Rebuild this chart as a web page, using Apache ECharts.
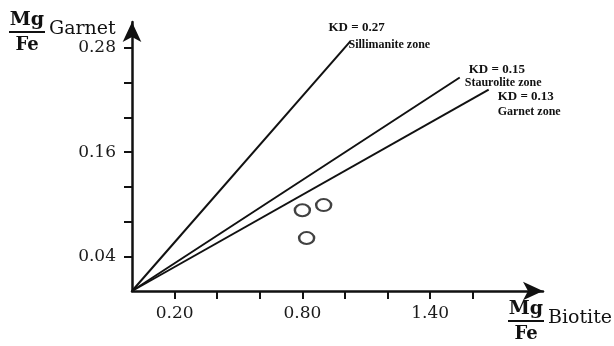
<!DOCTYPE html>
<html>
<head>
<meta charset="utf-8">
<script src="https://cdn.jsdelivr.net/npm/echarts@6/dist/echarts.min.js"></script>
<style>
html,body{margin:0;padding:0;background:#fff;}
#c{width:614px;height:346px;}
</style>
</head>
<body>
<div id="c"></div>
<script>
// Data
const xTickValues = [0.2, 0.4, 0.6, 0.8, 1.0, 1.2, 1.4, 1.6];
const xLabelValues = [0.2, 0.8, 1.4];
const yTickValues = [0.04, 0.08, 0.12, 0.16, 0.20, 0.24, 0.28];
const yLabelValues = [0.04, 0.16, 0.28];
const lineKD027 = [[0, 0], [1.026, 0.288]];
const lineKD015 = [[0, 0], [1.539, 0.246]];
const lineKD013 = [[0, 0], [1.675, 0.232]];
const samples = [[0.80, 0.093], [0.90, 0.099], [0.82, 0.061]];
const lineLabels = [
  ['KD = 0.27', 'Sillimanite zone'],
  ['KD = 0.15', 'Staurolite zone'],
  ['KD = 0.13', 'Garnet zone']
];

const serif = 'DejaVu Serif';
const smallFont = 'Liberation Serif';
const chart = echarts.init(document.getElementById('c'), null, {renderer: 'canvas'});

const lineStyle = {color: '#111', width: 2};
function lineSeries(d) {
  return {type: 'line', data: d, symbol: 'none', lineStyle: lineStyle, silent: true, animation: false};
}

chart.setOption({
  backgroundColor: '#fff',
  animation: false,
  grid: {left: 132, right: 71, top: 22, bottom: 55},
  xAxis: {
    type: 'value', min: 0, max: 1.93,
    splitLine: {show: false},
    axisLine: {show: true, onZero: false, lineStyle: {color: '#111', width: 2.5}, symbol: ['none', 'arrow'], symbolSize: [14, 20]},
    axisTick: {show: true, length: 8, lineStyle: {color: '#111', width: 2}, customValues: xTickValues},
    axisLabel: {customValues: xLabelValues, margin: 14, color: '#1a1a1a', fontFamily: serif, fontSize: 17,
      formatter: v => v.toFixed(2)}
  },
  yAxis: {
    type: 'value', min: 0, max: 0.31,
    splitLine: {show: false},
    axisLine: {show: true, onZero: false, lineStyle: {color: '#111', width: 2.5}, symbol: ['none', 'arrow'], symbolSize: [14, 20]},
    axisTick: {show: true, length: 8, lineStyle: {color: '#111', width: 2}, customValues: yTickValues},
    axisLabel: {customValues: yLabelValues, margin: 16, color: '#1a1a1a', fontFamily: serif, fontSize: 17,
      formatter: v => v.toFixed(2)}
  },
  series: [
    lineSeries(lineKD027),
    lineSeries(lineKD015),
    lineSeries(lineKD013),
    {type: 'scatter', data: samples, symbol: 'circle', symbolSize: [15, 12],
      itemStyle: {color: '#fff', borderColor: '#111', borderWidth: 2.2}, silent: true, animation: false}
  ]
});

// Annotations placed next to the line ends
const ends = [lineKD027[1], lineKD015[1], lineKD013[1]];
const offs = [[-22, -13, -2, 4], [9, -8, 5, 5], [9, 7, 9, 22]];
const graphics = [];
ends.forEach((e, i) => {
  const p = chart.convertToPixel({gridIndex: 0}, e);
  const o = offs[i];
  graphics.push({type: 'text', x: p[0] + o[0], y: p[1] + o[1], style: {text: lineLabels[i][0], font: 'bold 13px "' + smallFont + '"', fill: '#111', textVerticalAlign: 'middle'}});
  graphics.push({type: 'text', x: p[0] + o[2], y: p[1] + o[3], style: {text: lineLabels[i][1], font: 'bold 12px "' + smallFont + '"', fill: '#111', textVerticalAlign: 'middle'}});
});

function fraction(x, y, name) {
  return [
    {type: 'text', x: x, y: y, style: {text: 'Mg', font: 'bold 19px "' + serif + '"', fill: '#111', textAlign: 'center', textVerticalAlign: 'middle'}},
    {type: 'line', shape: {x1: x - 18, y1: y + 12, x2: x + 18, y2: y + 12}, style: {stroke: '#111', lineWidth: 2}},
    {type: 'text', x: x, y: y + 25, style: {text: 'Fe', font: 'bold 18px "' + serif + '"', fill: '#111', textAlign: 'center', textVerticalAlign: 'middle'}},
    {type: 'text', x: x + 22, y: y + 9, style: {text: name, font: '19px "' + serif + '"', fill: '#111', textVerticalAlign: 'middle'}}
  ];
}
graphics.push(...fraction(27, 20, 'Garnet'));
graphics.push(...fraction(526, 309, 'Biotite'));

chart.setOption({graphic: graphics});
</script>
</body>
</html>
